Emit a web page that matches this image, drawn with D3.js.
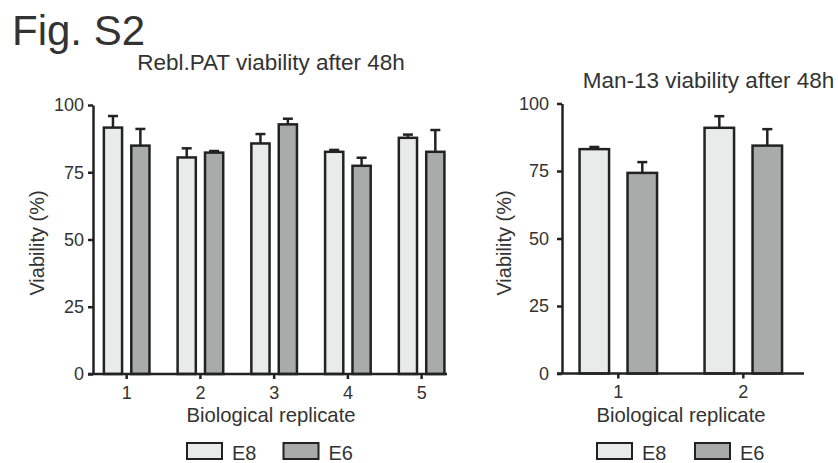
<!DOCTYPE html>
<html lang="en">
<head>
    <meta charset="utf-8">
    <style>
        body {
            margin: 0;
            padding: 0;
            background: #ffffff;
            font-family: "Liberation Sans", Arial, Helvetica, sans-serif;
        }
        svg {
            display: block;
        }
        text {
            fill: #333333;
        }
        .axis path, .axis line {
            stroke: #222222;
            stroke-width: 2.5;
        }
    </style>
</head>
<body>

<script src="https://cdn.jsdelivr.net/npm/d3@7"></script>
<script>
// data
var series = ['E8', 'E6'];
var yTicks = [0, 25, 50, 75, 100];

var rebCategories = ['1', '2', '3', '4', '5'];
var rebE8 = [91.6, 80.5, 85.7, 82.6, 87.8];
var rebE8Err = [4.3, 3.4, 3.5, 0.7, 1.2];
var rebE6 = [84.9, 82.3, 92.8, 77.4, 82.6];
var rebE6Err = [6.2, 0.6, 2.1, 3.0, 8.1];

var manCategories = ['1', '2'];
var manE8 = [83.1, 91.0];
var manE8Err = [0.8, 4.3];
var manE6 = [74.3, 84.4];
var manE6Err = [4.0, 6.1];

var fills = { E8: '#e9ebeb', E6: '#a9abab' };

(function() {
    var width = 838;
    var height = 463;
    var font = '"Liberation Sans", Arial, Helvetica, sans-serif';
    var svg = d3.select('body')
        .append('svg')
        .attr('width', width)
        .attr('height', height);

    svg.append('text')
        .attr('x', 12)
        .attr('y', 45)
        .style('font-size', '42px')
        .text('Fig. S2');

    function rows(cats, e8, e8err, e6, e6err) {
        return cats.map(function (c, i) {
            return {
                cat: c,
                vals: [
                    { key: 'E8', v: e8[i], err: e8err[i] },
                    { key: 'E6', v: e6[i], err: e6err[i] }
                ]
            };
        });
    }

    function panel(o) {
        var g = svg.append('g');
        var data = rows(o.cats, o.e8, o.e8err, o.e6, o.e6err);

        var y = d3.scaleLinear().domain([0, 100]).range([o.bottom, o.top]);
        var x0 = d3.scaleBand().domain(o.cats).range(o.xRange);
        var x1 = d3.scaleBand().domain(series)
            .range([-o.groupW / 2, o.groupW / 2])
            .paddingInner(o.inner);

        // bars
        var grp = g.selectAll('g.grp')
            .data(data)
            .enter()
            .append('g')
            .attr('class', 'grp')
            .attr('transform', function (d) {
                return 'translate(' + (x0(d.cat) + x0.bandwidth() / 2) + ',0)';
            });

        var bar = grp.selectAll('g.bar')
            .data(function (d) { return d.vals; })
            .enter()
            .append('g')
            .attr('class', 'bar');

        // error bars (upper only)
        bar.append('line')
            .attr('x1', function (d) { return x1(d.key) + x1.bandwidth() / 2; })
            .attr('x2', function (d) { return x1(d.key) + x1.bandwidth() / 2; })
            .attr('y1', function (d) { return y(d.v); })
            .attr('y2', function (d) { return y(d.v + d.err); })
            .style('stroke', '#222')
            .style('stroke-width', 2.5);
        bar.append('line')
            .attr('x1', function (d) { return x1(d.key) + x1.bandwidth() / 2 - 5; })
            .attr('x2', function (d) { return x1(d.key) + x1.bandwidth() / 2 + 5; })
            .attr('y1', function (d) { return y(d.v + d.err); })
            .attr('y2', function (d) { return y(d.v + d.err); })
            .style('stroke', '#222')
            .style('stroke-width', 2.5);

        bar.append('rect')
            .attr('x', function (d) { return x1(d.key); })
            .attr('width', x1.bandwidth())
            .attr('y', function (d) { return y(d.v); })
            .attr('height', function (d) { return y(0) - y(d.v); })
            .style('fill', function (d) { return fills[d.key]; })
            .style('stroke', '#222')
            .style('stroke-width', 2.5);

        // y axis
        var ya = g.append('g')
            .attr('class', 'axis')
            .attr('transform', 'translate(' + o.axisX + ',0)')
            .call(d3.axisLeft(y).tickValues(yTicks).tickSize(5).tickSizeOuter(0).tickPadding(o.yPad));
        ya.selectAll('text')
            .style('font-size', '18px')
            .style('font-family', font)
            .style('fill', '#333');

        // x axis
        var xa = g.append('g')
            .attr('class', 'axis')
            .attr('transform', 'translate(0,' + o.bottom + ')')
            .call(d3.axisBottom(x0).tickSize(5).tickSizeOuter(0).tickPadding(7));
        xa.select('.domain').remove();
        xa.selectAll('text')
            .style('font-size', '18px')
            .style('font-family', font)
            .style('fill', '#333');
        xa.append('line')
            .attr('x1', o.axisX - 5)
            .attr('x2', o.xEnd)
            .attr('y1', 0)
            .attr('y2', 0);

        // titles
        g.append('text')
            .attr('x', o.titleX)
            .attr('y', o.titleY)
            .attr('text-anchor', 'middle')
            .style('font-size', '22.5px')
            .text(o.title);

        g.append('text')
            .attr('x', o.labelX)
            .attr('y', 422)
            .attr('text-anchor', 'middle')
            .style('font-size', '20.3px')
            .text('Biological replicate');

        g.append('text')
            .attr('transform', 'translate(' + o.yLabelX + ',' + 243 + ') rotate(-90)')
            .attr('text-anchor', 'middle')
            .style('font-size', '20px')
            .text('Viability (%)');

        // legend
        var leg = g.selectAll('g.leg')
            .data(series)
            .enter()
            .append('g')
            .attr('class', 'leg')
            .attr('transform', function (d, i) {
                return 'translate(' + (o.legX + i * o.legStep) + ',443)';
            });
        leg.append('rect')
            .attr('width', 35)
            .attr('height', 16)
            .style('fill', function (d) { return fills[d]; })
            .style('stroke', '#222')
            .style('stroke-width', 2);
        leg.append('text')
            .attr('x', 45)
            .attr('y', 17)
            .style('font-size', '20px')
            .text(function (d) { return d; });
    }

    panel({
        cats: rebCategories, e8: rebE8, e8err: rebE8Err, e6: rebE6, e6err: rebE6Err,
        top: 105, bottom: 374, axisX: 93, xRange: [89.8, 458.5], xEnd: 447,
        groupW: 45.6, inner: 0.336, yPad: 4,
        title: 'Rebl.PAT viability after 48h', titleX: 271, titleY: 70,
        labelX: 271, yLabelX: 44, legX: 187, legStep: 96.5
    });

    panel({
        cats: manCategories, e8: manE8, e8err: manE8Err, e6: manE6, e6err: manE6Err,
        top: 103.5, bottom: 373.5, axisX: 562, xRange: [555.8, 805.8], xEnd: 804,
        groupW: 77.5, inner: 0.385, yPad: 8,
        title: 'Man-13 viability after 48h', titleX: 708.5, titleY: 88,
        labelX: 681, yLabelX: 511, legX: 597, legStep: 98
    });
})();
</script>

</body>
</html>
